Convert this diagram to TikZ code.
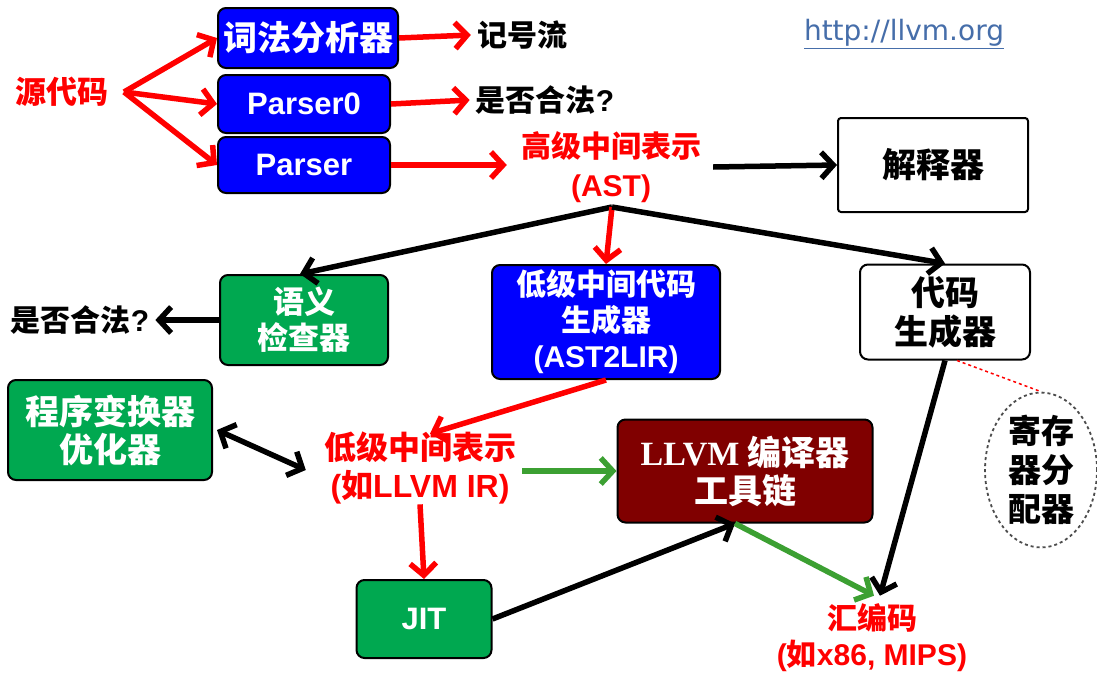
\documentclass[tikz,border=0pt]{standalone}
\usepackage{fontspec}
\setmainfont{Liberation Sans}
\newfontfamily\cjk{Noto Sans CJK SC}
\newfontfamily\tmsfont{Liberation Serif}
\newfontfamily\urlfam{DejaVu Sans}
\usetikzlibrary{arrows.meta,shapes.geometric}
\definecolor{myred}{RGB}{255,0,0}
\definecolor{myblue}{RGB}{0,0,255}
\definecolor{mygreen}{RGB}{0,168,80}
\definecolor{arrgreen}{RGB}{60,160,50}
\definecolor{mydarkred}{RGB}{128,0,0}
\definecolor{urlcol}{RGB}{70,110,170}
\tikzset{
  box/.style={draw=black, line width=2pt, rounded corners=8pt, inner sep=0pt, align=center},
  bluebox/.style={box, fill=myblue, text=white},
  greenbox/.style={box, fill=mygreen, text=white},
  whitebox/.style={box, fill=white, text=black},
  darkbox/.style={box, fill=mydarkred, text=white},
  lbl/.style={inner sep=0pt, align=center},
  redlbl/.style={lbl, text=myred},
  arr/.style={line width=5.5pt, -{Straight Barb[length=12pt,width=26pt]}},
  redarr/.style={arr, draw=myred},
  blackarr/.style={arr, draw=black},
  greenarr/.style={arr, draw=arrgreen},
}
\newcommand{\fs}[2]{\fontsize{#1}{#2}\selectfont}
\begin{document}
\begin{tikzpicture}[x=1pt,y=-1pt]
\useasboundingbox[fill=white] (0,0) rectangle (1097,673);

% top row
\node[redlbl, font=\cjk\bfseries\fs{31}{36}] (src) at (62,92) {源代码};
\coordinate (fork) at (124,92);
\node[bluebox, minimum width=180pt, minimum height=60pt, font=\cjk\bfseries\fs{34}{38}] (lex) at (308,38) {词法分析器};
\node[bluebox, minimum width=172pt, minimum height=58pt, font=\bfseries\fs{31}{36}] (p0) at (304,104) {Parser0};
\node[bluebox, minimum width=172pt, minimum height=56pt, font=\bfseries\fs{31}{36}] (p) at (304,165) {Parser};
\node[lbl, font=\cjk\bfseries\fs{30}{35}] (tok) at (522,35) {记号流};
\node[lbl, font=\bfseries\fs{30}{35}] (leg1) at (545,100) {{\cjk 是否合法}?};
\node[redlbl, font=\bfseries\fs{30}{39}] (ast) at (611,167) {{\cjk 高级中间表示}\\(AST)};
\node[whitebox, minimum width=190pt, minimum height=94pt, font=\cjk\bfseries\fs{34}{38}, rounded corners=3pt] (interp) at (933,165) {解释器};
\node[lbl, font=\urlfam\fs{28}{32}, text=urlcol] (url) at (904,34) {\underline{http://llvm.org}};

\draw[redarr] (fork) -- (lex.west);
\draw[redarr] (fork) -- (p0.west);
\draw[redarr] (fork) -- (p.west);
\draw[redarr] (lex.east) -- ([xshift=-6pt]tok.west);
\draw[redarr] (p0.east) -- ([xshift=-6pt]leg1.west);
\draw[redarr] (p.east) -- ([xshift=-14pt]ast.west |- p.east);
\draw[blackarr] ([xshift=12pt]ast.east) -- (interp.west);

% middle row
\coordinate (br) at (612,207);
\node[greenbox, minimum width=168pt, minimum height=90pt, font=\cjk\bfseries\fs{31}{36}] (sem) at (304,320) {语义\\检查器};
\node[bluebox, minimum width=228pt, minimum height=114pt, font=\bfseries\fs{30}{36}] (lowgen) at (606,322) {{\cjk 低级中间代码}\\{\cjk 生成器}\\(AST2LIR)};
\node[whitebox, minimum width=170pt, minimum height=95pt, font=\cjk\bfseries\fs{34}{39}] (cg) at (945,312) {代码\\生成器};
\node[lbl, font=\bfseries\fs{30}{35}] (leg2) at (80,320) {{\cjk 是否合法}?};

\draw[blackarr] (br) -- ([xshift=-4pt]sem.north);
\draw[redarr] (br) -- (lowgen.north);
\draw[blackarr] (br) -- (cg.north);
\draw[blackarr] (sem.west) -- ([xshift=6pt]leg2.east);

% lower part
\node[greenbox, minimum width=204pt, minimum height=100pt, font=\cjk\bfseries\fs{34}{38}] (opt) at (110,430) {程序变换器\\优化器};
\node[redlbl, font=\bfseries\fs{32}{38}] (lir) at (420,468) {{\cjk 低级中间表示}\\({\cjk 如}LLVM IR)};
\node[darkbox, minimum width=255pt, minimum height=103pt, font=\cjk\bfseries\fs{34}{38}] (llvm) at (745,471) {{\tmsfont LLVM} 编译器\\工具链};
\node[greenbox, minimum width=135pt, minimum height=78pt, font=\bfseries\fs{31}{36}] (jit) at (424,619) {JIT};
\node[redlbl, font=\bfseries\fs{30}{36}] (asm) at (872,638) {{\cjk 汇编码}\\({\cjk 如}x86, MIPS)};
\node[ellipse, draw=black!70, dashed, line width=1.8pt, minimum width=112pt, minimum height=122pt, inner sep=0pt, align=center, font=\cjk\bfseries\fs{33}{39}] (reg) at (1041,470) {寄存\\器分\\配器};

\draw[redarr] (lowgen.south) -- ([xshift=10pt,yshift=-2pt]lir.north);
\draw[line width=5.5pt, {Straight Barb[length=12pt,width=26pt]}-{Straight Barb[length=12pt,width=26pt]}] ([xshift=4pt]opt.east) -- ([xshift=-18pt,yshift=-2pt]lir.west);
\draw[greenarr] ([xshift=6pt]lir.east |- llvm.west) -- (llvm.west);
\draw[redarr] (lir.south) -- (jit.north);
\draw[blackarr] (jit.east) -- ([xshift=-10pt]llvm.south);
\draw[greenarr] ([xshift=-10pt]llvm.south) -- ([xshift=2pt,yshift=8pt]asm.north);
\draw[blackarr] (cg.south) -- ([xshift=8pt,yshift=8pt]asm.north);
\draw[myred, dashed, line width=1.5pt] ([xshift=12pt]cg.south) -- (reg.north);
\end{tikzpicture}
\end{document}
